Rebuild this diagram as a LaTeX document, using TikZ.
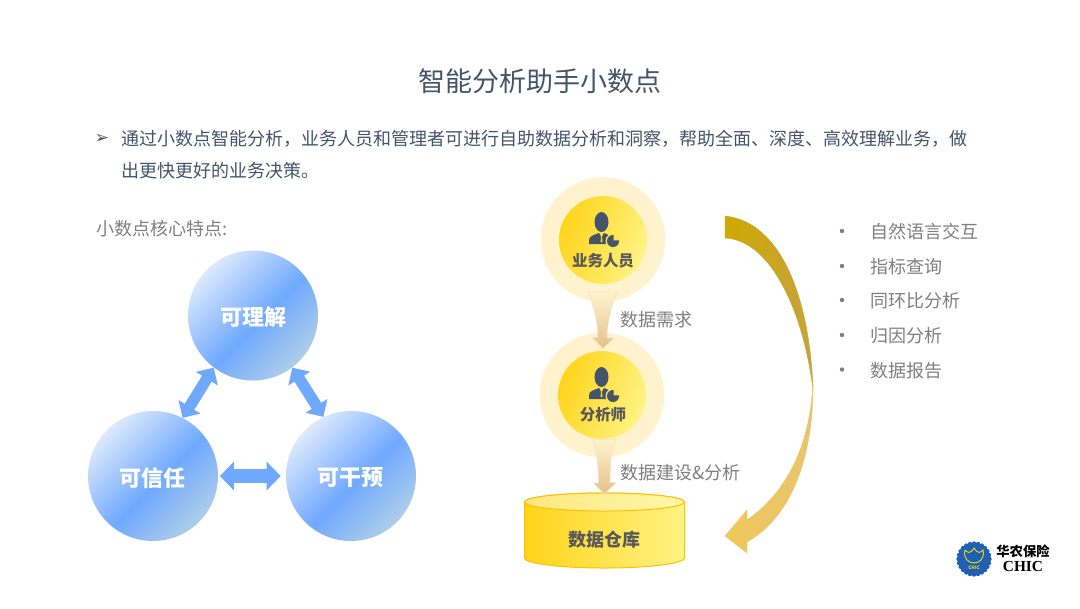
\documentclass[tikz,border=0pt]{standalone}
\usepackage{fontspec}
\setmainfont{Noto Sans CJK SC}
\newfontfamily\dingfont{DejaVu Sans}
\newfontfamily\logofont{Liberation Serif}
\usetikzlibrary{arrows.meta,calc}
\definecolor{slatetext}{HTML}{44546A}
\definecolor{greytext}{HTML}{7F7F7F}
\definecolor{darktext}{HTML}{595959}
\definecolor{ballstart}{HTML}{E4EEFC}
\definecolor{ballmid}{HTML}{6FA9FF}
\definecolor{ballend}{HTML}{B7D3E6}
\definecolor{ringpale}{HTML}{FFF2CC}
\definecolor{coreleft}{HTML}{FFD41A}
\definecolor{coreright}{HTML}{FFF385}
\definecolor{dbedge}{HTML}{FFC000}
\definecolor{funnelmid}{HTML}{F6EBD8}
\definecolor{funnelend}{HTML}{E6C08A}
\definecolor{funneledge}{HTML}{F2E2C6}
\definecolor{bigtopleft}{HTML}{D0A900}
\definecolor{bigtopright}{HTML}{C4A33F}
\definecolor{bigtopedge}{HTML}{CAA620}
\definecolor{biglowleft}{HTML}{F0C85A}
\definecolor{biglowright}{HTML}{E8C46E}
\definecolor{biglowedge}{HTML}{ECC664}
\definecolor{logoblue}{HTML}{1F5FB4}
\definecolor{logoyellow}{HTML}{F5D90A}
\pgfdeclareverticalshading{ballshade}{100bp}{color(0bp)=(ballend);color(22bp)=(ballend);color(47bp)=(ballmid);color(77bp)=(ballstart);color(100bp)=(ballstart)}
\tikzset{
  ball/.style={circle,inner sep=0pt,minimum size=97.5pt,shading=ballshade,shading angle=45},
  ballname/.style={inner sep=0pt,text=white,font=\fontsize{16.5pt}{20pt}\bfseries\selectfont},
  link/.style={{Triangle[length=9.75pt,width=18.75pt]}-{Triangle[length=9.75pt,width=18.75pt]},draw=ballmid,line width=8.5pt},
  flatlink/.style={{Triangle[length=10.5pt,width=21pt]}-{Triangle[length=10.5pt,width=21pt]},draw=ballmid,line width=11pt},
  ring/.style={circle,inner sep=0pt,minimum size=93.5pt,fill=ringpale},
  core/.style={circle,inner sep=0pt,minimum size=66pt,left color=coreleft,right color=coreright,shading angle=70},
  rolelabel/.style={inner sep=0pt,text=darktext,font=\fontsize{11.6pt}{14pt}\bfseries\selectfont},
  funnel/.style={draw=funneledge,line width=0.4pt,top color=ringpale,middle color=funnelmid,bottom color=funnelend},
  plain/.style={inner sep=0pt,anchor=west,text=greytext,font=\fontsize{13.5pt}{16pt}\selectfont},
  body/.style={plain,text=slatetext},
  staff/.pic={
    \fill[slatetext] (-1.5,-18) ellipse [x radius=7,y radius=10];
    \fill[slatetext] (-14,4) -- (-14,0) .. controls (-14,-4) and (-9,-5) .. (-4,-7) -- (-1.5,-3) -- (1,-7) .. controls (6,-5) and (9,-4) .. (9,0) -- (9,4) -- cycle;
    \fill[coreleft] (-2.5,-5) -- (-0.5,-5) -- (-1,-3) -- (-0.5,2) -- (-2.5,2) -- (-2,-3) -- cycle;
    \fill[coreright!50!coreleft] (10,1) circle [radius=7.5];
    \fill[slatetext] (10,1) circle [radius=6];
    \fill[coreright!50!coreleft] (10.6,0.4) -- (10.6,-6.1) arc [start angle=-90,end angle=0,radius=6.5] -- cycle;
  }
}
\begin{document}
\begin{tikzpicture}[x=0.75pt,y=-0.75pt]
\useasboundingbox (0,0) rectangle (1080,608);
\node (title) [inner sep=0pt,text=slatetext,font=\fontsize{20.25pt}{24pt}\selectfont] at (540,81) {智能分析助手小数点};
\node (mark) [inner sep=0pt,text=slatetext,font=\fontsize{13pt}{15pt}\dingfont] at (102,138.5) {➢};
\node (lineone) [body] at (121.5,139) {通过小数点智能分析，业务人员和管理者可进行自助数据分析和洞察，帮助全面、深度、高效理解业务，做};
\node (linetwo) [body] at (121.5,171) {出更快更好的业务决策。};
\node (corehead) [plain] at (96,229) {小数点核心特点:};

\node (li) [ball] at (253,315.5) {};
\node (xin) [ball] at (153,476) {};
\node (gan) [ball] at (351,476) {};
\node (liname) [ballname] at (253,317) {可理解};
\node (xinname) [ballname] at (152.5,478) {可信任};
\node (ganname) [ballname] at (350.5,478) {可干预};
\draw[link] (li.233) -- (xin.63);
\draw[link] (li.307) -- (gan.115);
\draw[flatlink] ([xshift=1.2pt]xin.east) -- ([xshift=-3.8pt]gan.west);

\node (ringa) [ring] at (603,239.5) {};
\node (ringb) [ring] at (602,395) {};
\node (corea) [core] at (603,240) {};
\node (coreb) [core] at (602,395) {};
\pic at (603,240) {staff};
\pic at (603,395) {staff};
\node (rolea) [rolelabel] at (603,261) {业务人员};
\node (roleb) [rolelabel] at (603,415) {分析师};

\path[funnel] ($(ringa.south)+(-15,-10)$) -- ++(29,0) .. controls +(-6,15) and +(0,-15) .. ++(-10,46) -- ++(7,0) -- ($(ringb.north)+(1,16)$) -- ($(ringb.north)+(-10,5)$) -- ++(6,0) .. controls +(0,-15) and ($(ringa.south)+(-9,5)$) .. ($(ringa.south)+(-15,-10)$) -- cycle;

\draw[draw=dbedge,line width=0.75pt,left color=coreleft,right color=coreright] (524.5,502) -- (524.5,558) arc [start angle=180,end angle=360,x radius=80,y radius=-10] -- (684.5,502) arc [start angle=0,end angle=180,x radius=80,y radius=-9] -- cycle;
\draw[draw=dbedge,line width=0.75pt,left color=coreleft!55!white,right color=coreright!70!white] (604.5,502) ellipse [x radius=80,y radius=9];
\coordinate (dbtop) at (604.5,494);
\node (db) [inner sep=0pt,text=darktext,font=\fontsize{13.5pt}{16pt}\bfseries\selectfont] at (604,540) {数据仓库};

\path[funnel] ($(ringb.south)+(-9,-18)$) -- ++(23,0) .. controls +(-6,12) and +(0,-12) .. ++(-6,43) -- ++(6,0) -- (dbtop) -- ($(dbtop)+(-11,-11)$) -- ++(5,0) .. controls +(0,-12) and ($(ringb.south)+(-5,-6)$) .. ($(ringb.south)+(-9,-18)$) -- cycle;

\node (needs) [plain] at (620,320) {数据需求};
\node (build) [plain] at (620,473) {数据建设\&分析};

% big return arrow
\path[draw=bigtopedge,line width=0.3pt,left color=bigtopleft,right color=bigtopright] (725,216) .. controls (782,222) and (810,300) .. (813,390) .. controls (804,315) and (772,240) .. (725,238) -- cycle;
\path[draw=biglowedge,line width=0.3pt,left color=biglowleft,right color=biglowright] (813,380) .. controls (814,450) and (795,515) .. (747,542) -- (747,553) -- (725,536) -- (747,510) -- (747,520) .. controls (790,490) and (811,440) .. (813,380) -- cycle;

\foreach \ypos/\itemtext [count=\i] in {231/自然语言交互,266/指标查询,300/同环比分析,335/归因分析,369.5/数据报告}{
  \fill[greytext] (842,\ypos) circle [radius=2.2];
  \node (item\i) [plain] at (870,\ypos+1) {\itemtext};
}

% logo
\coordinate (logo) at (974,559);
\foreach \a in {0,15,...,345}{
  \fill[logoblue] (logo) ++(\a:15.5) circle [radius=2.2];
}
\fill[logoblue] (logo) circle [radius=16];
\draw[logoyellow,line width=0.7pt] ($(logo)+(-9,-9)$) .. controls ($(logo)+(-11,0)$) and ($(logo)+(-5,4)$) .. ($(logo)+(0,4)$) .. controls ($(logo)+(5,4)$) and ($(logo)+(11,0)$) .. ($(logo)+(9,-9)$) .. controls ($(logo)+(6,-6)$) and ($(logo)+(4,-5)$) .. ($(logo)+(0,-11)$) .. controls ($(logo)+(-4,-5)$) and ($(logo)+(-6,-6)$) .. ($(logo)+(-9,-9)$);
\node (logosmall) [inner sep=0pt,text=logoyellow,font=\fontsize{3.5pt}{4pt}\bfseries\selectfont] at ($(logo)+(0,9)$) {CHIC};
\node (logocn) [inner sep=0pt,text=black,font=\fontsize{10pt}{12pt}\bfseries\selectfont] at (1023,551) {华农保险};
\node (logoen) [inner sep=0pt,text=black,font=\fontsize{11.5pt}{13pt}\logofont\bfseries\selectfont] at (1023,566) {CHIC};
\end{tikzpicture}
\end{document}
